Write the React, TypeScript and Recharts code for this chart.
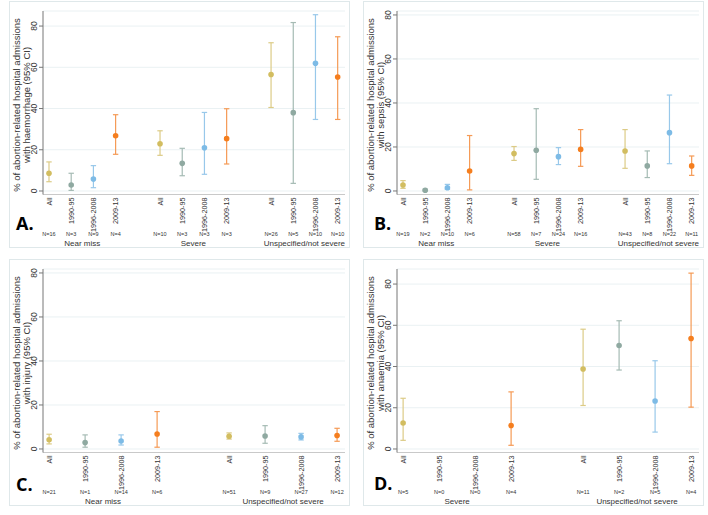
import React from 'react';
import { ComposedChart, Scatter, ErrorBar, XAxis, YAxis, CartesianGrid } from 'recharts';

const periods = ['All', '1990-95', '1996-2008', '2009-13'];
const dotColors = ['#d2bd60', '#8fa9a1', '#7dbbe6', '#f57e1e'];
const capColors = ['#dccb86', '#a5bbb4', '#98c8ea', '#f59a55'];

// A. haemorrhage
const haemGroups = ['Near miss', 'Severe', 'Unspecified/not severe'];
const haemN = [16, 3, 9, 4, 10, 3, 3, 3, 26, 5, 10, 10];
const haemEst = [8.6, 2.9, 5.8, 26.8, 22.9, 13.4, 21.0, 25.4, 56.5, 38.0, 61.9, 55.3];
const haemLo = [4.5, 0.3, 1.6, 17.8, 17.3, 7.4, 8.1, 13.1, 40.5, 3.7, 34.7, 34.7];
const haemHi = [14.1, 8.6, 12.3, 37.0, 29.2, 20.7, 38.1, 39.9, 71.9, 81.7, 85.5, 74.8];

// B. sepsis
const sepsGroups = ['Near miss', 'Severe', 'Unspecified/not severe'];
const sepsN = [19, 2, 10, 6, 58, 7, 24, 16, 43, 8, 22, 11];
const sepsEst = [2.7, 0.3, 1.5, 9.1, 17.0, 18.5, 15.6, 18.9, 18.2, 11.4, 26.5, 11.4];
const sepsLo = [1.2, 0, 0.8, 0.5, 13.9, 5.3, 12.0, 11.2, 10.3, 6.1, 12.4, 7.1];
const sepsHi = [4.7, 0.8, 3.0, 25.2, 20.2, 37.4, 19.7, 27.9, 27.9, 18.2, 43.6, 15.9];

// C. injury
const injGroups = ['Near miss', 'Unspecified/not severe'];
const injN = [21, 1, 14, 6, 51, 9, 27, 12];
const injEst = [4.2, 2.9, 3.6, 6.8, 5.8, 5.9, 5.5, 6.1];
const injLo = [2.3, 0.8, 1.8, 0.8, 4.5, 2.6, 4.1, 3.5];
const injHi = [6.7, 6.4, 6.4, 17.0, 7.3, 10.6, 7.1, 9.4];

// D. anaemia
const anaGroups = ['Severe', 'Unspecified/not severe'];
const anaN = [5, 0, 0, 4, 11, 2, 5, 4];
const anaEst = [12.6, null, null, 11.4, 38.8, 50.2, 23.3, 53.6];
const anaLo = [4.2, null, null, 1.8, 21.1, 38.3, 8.2, 20.3];
const anaHi = [24.6, null, null, 27.7, 58.1, 62.2, 42.8, 85.3];

const yTicks = [0, 20, 40, 60, 80];

type PanelProps = {
  letter: string;
  outcome: string;
  groups: string[];
  n: number[];
  est: (number | null)[];
  lo: (number | null)[];
  hi: (number | null)[];
  yDomain: [number, number];
  left: number;
  top: number;
  letterX: number;
  letterY: number;
};

const W = 354;
const H = 257;

const Panel = ({ letter, outcome, groups, n, est, lo, hi, yDomain, left, top, letterX, letterY }: PanelProps) => {
  const xDomain = groups.length === 3 ? [-0.27, 13.33] : [-0.17, 8.22];
  const ticks: number[] = [];
  groups.forEach((g, gi) => {
    periods.forEach((p, pi) => ticks.push(gi * 5 + pi));
    ticks.push(gi * 5 + 1.5);
  });

  const series = periods.map((p, pi) =>
    groups
      .map((g, gi) => {
        const i = gi * 4 + pi;
        const v = est[i];
        if (v == null) return null;
        return { x: gi * 5 + pi, y: v, err: [v - (lo[i] as number), (hi[i] as number) - v] };
      })
      .filter((d) => d != null)
  );

  const XTick = (props: any) => {
    const { x, y, payload } = props;
    const v = payload.value;
    const gi = Math.floor(v / 5);
    const pi = v - gi * 5;
    if (!Number.isInteger(pi)) {
      return (
        <text x={x} y={y + 51.5} textAnchor="middle" fontSize={8} fill="#333">
          {groups[gi]}
        </text>
      );
    }
    return (
      <g>
        <text
          x={x}
          y={y + 3}
          dy="0.35em"
          transform={`rotate(-90, ${x}, ${y + 3})`}
          textAnchor="end"
          fontSize={7.2}
          fill="#333"
        >
          {periods[pi]}
        </text>
        <text x={x} y={y + 41.5} textAnchor="middle" fontSize={5.5} fill="#333">
          N={n[gi * 4 + pi]}
        </text>
      </g>
    );
  };

  const YTick = (props: any) => {
    const { x, y, payload } = props;
    return (
      <text x={x} y={y} transform={`rotate(-90, ${x}, ${y})`} textAnchor="middle" fontSize={8.5} fill="#333">
        {payload.value}
      </text>
    );
  };

  return (
    <div style={{ position: 'absolute', left, top, width: W, height: H }}>
      <svg width={W} height={H} style={{ position: 'absolute', left: 0, top: 0 }}>
        <rect x={9.5} y={1.5} width={340} height={246} fill="none" stroke="#dfe8ea" />
        <text
          x={16}
          y={105}
          transform="rotate(-90, 16, 105)"
          textAnchor="middle"
          dominantBaseline="central"
          fontSize={9.5}
          fill="#333"
        >
          % of abortion-related hospital admissions
        </text>
        <text
          x={26}
          y={105}
          transform="rotate(-90, 26, 105)"
          textAnchor="middle"
          dominantBaseline="central"
          fontSize={9.5}
          fill="#333"
        >
          {outcome}
        </text>
        <text
          x={letterX}
          y={letterY}
          fontSize={18}
          fontWeight={700}
          fontFamily="'Open Sans', sans-serif"
          fill="#000"
        >
          {letter}
        </text>
      </svg>
      <div style={{ position: 'absolute', left: 0, top: 0 }}>
        <ComposedChart width={W} height={H} margin={{ top: 11, right: 9, left: 0, bottom: 0 }}>
          <CartesianGrid vertical={false} stroke="#eaf1f3" />
          <XAxis
            type="number"
            dataKey="x"
            domain={xDomain}
            ticks={ticks}
            interval={0}
            height={62.5}
            tickLine={false}
            tickSize={0}
            tickMargin={0}
            axisLine={{ stroke: '#c9c9c9' }}
            tick={<XTick />}
            allowDataOverflow
          />
          <YAxis
            type="number"
            dataKey="y"
            domain={yDomain}
            ticks={yTicks}
            width={43}
            tickSize={4}
            tickMargin={2}
            axisLine={{ stroke: '#777' }}
            tickLine={{ stroke: '#777' }}
            tick={<YTick />}
            allowDataOverflow
          />
          {series.map((data, pi) => (
            <Scatter
              key={periods[pi]}
              name={periods[pi]}
              data={data}
              fill={dotColors[pi]}
              isAnimationActive={false}
              shape={(p: any) => <circle cx={p.cx} cy={p.cy} r={2.8} fill={dotColors[pi]} />}
            >
              <ErrorBar dataKey="err" direction="y" width={2.7} stroke={capColors[pi]} strokeWidth={1.2} />
            </Scatter>
          ))}
        </ComposedChart>
      </div>
    </div>
  );
};

export default function App() {
  return (
    <div
      style={{
        position: 'absolute',
        left: 0,
        top: 0,
        width: 708,
        height: 515,
        background: '#fff',
        fontFamily: "'Liberation Sans', Arial, sans-serif",
      }}
    >
      <Panel letter="A." outcome="with haemorrhage (95% CI)" groups={haemGroups} n={haemN} est={haemEst} lo={haemLo} hi={haemHi} yDomain={[-1.7, 87.3]} left={0} top={0} letterX={16} letterY={230} />
      <Panel letter="B." outcome="with sepsis (95% CI)" groups={sepsGroups} n={sepsN} est={sepsEst} lo={sepsLo} hi={sepsHi} yDomain={[-1.6, 81.8]} left={354} top={0} letterX={20} letterY={230} />
      <Panel letter="C." outcome="with injury (95% CI)" groups={injGroups} n={injN} est={injEst} lo={injLo} hi={injHi} yDomain={[-1.6, 81.8]} left={0} top={258} letterX={16} letterY={233} />
      <Panel letter="D." outcome="with anaemia (95% CI)" groups={anaGroups} n={anaN} est={anaEst} lo={anaLo} hi={anaHi} yDomain={[-1.7, 87.3]} left={354} top={258} letterX={20} letterY={232} />
    </div>
  );
}
